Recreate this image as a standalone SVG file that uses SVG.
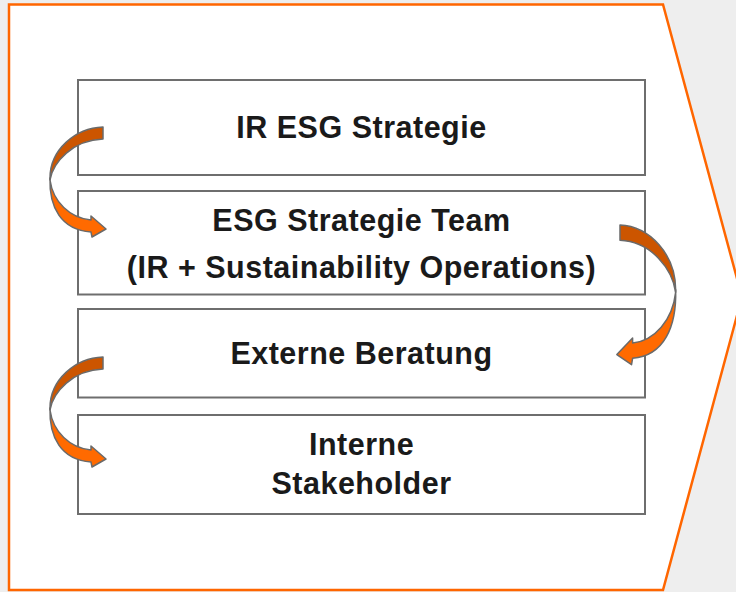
<svg xmlns="http://www.w3.org/2000/svg" xmlns:xlink="http://www.w3.org/1999/xlink" width="736" height="592" viewBox="0 0 736 592">
<style>
.box{fill:#ffffff;stroke:#6e6e6e;stroke-width:2}
.lbl{font-family:"Liberation Sans",Arial,Helvetica,sans-serif;font-weight:bold;font-size:30.5px;letter-spacing:0.5px;fill:#1a1a1a;text-anchor:middle}
.dark{fill:#cc5500;stroke:#6a6a6a;stroke-width:1.5;stroke-linejoin:round}
.bright{fill:#ff6a00;stroke:#6a6a6a;stroke-width:1.5;stroke-linejoin:round}
</style>
<defs>
<g id="curvedArrow">
<path class="bright" vector-effect="non-scaling-stroke" d="M -53,51 C -54,80 -42,103 -12,105 L -11,110 L 3,102 L -12,89 L -12,93 C -33,91 -50,75 -53,53 Z"/>
<path class="dark" vector-effect="non-scaling-stroke" d="M 0,0 C -28,1 -53,23 -53,51 L -53,53 C -50,35 -30,13 0,12 Z"/>
</g>
</defs>
<rect x="0" y="0" width="736" height="592" fill="#eeeeee"/>
<path id="frame" d="M 9,4.5 L 663,4.5 L 742,297 L 663,590 L 9,590 Z" fill="#ffffff" stroke="#ff6600" stroke-width="2.5" stroke-linejoin="miter"/>
<g id="node1">
<rect class="box" x="78" y="80" width="567" height="95"/>
<text class="lbl" x="361.5" y="137.5">IR ESG Strategie</text>
</g>
<g id="node2">
<rect class="box" x="78" y="191" width="567" height="103.5"/>
<text class="lbl" x="361.5" y="230.5">ESG Strategie Team</text>
<text class="lbl" x="361.5" y="277.5">(IR + Sustainability Operations)</text>
</g>
<g id="node3">
<rect class="box" x="78" y="309" width="567" height="88.5"/>
<text class="lbl" x="361.5" y="363.5">Externe Beratung</text>
</g>
<g id="node4">
<rect class="box" x="78" y="415" width="567" height="99"/>
<text class="lbl" x="361.5" y="455">Interne</text>
<text class="lbl" x="361.5" y="493.5">Stakeholder</text>
</g>
<g id="connectors">
<use xlink:href="#curvedArrow" transform="translate(103,127)"/>
<use xlink:href="#curvedArrow" transform="translate(620,225) scale(-1.05,1.27)"/>
<use xlink:href="#curvedArrow" transform="translate(103,357)"/>
</g>
</svg>
